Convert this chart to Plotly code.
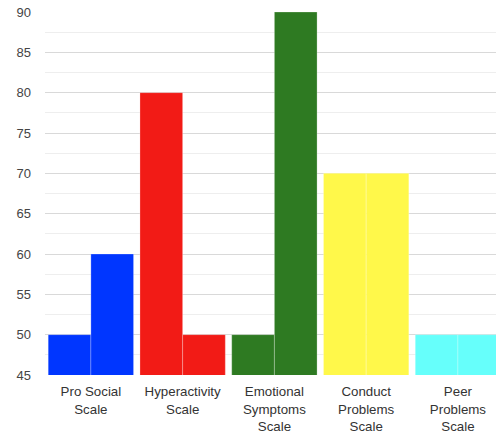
import plotly.graph_objects as go

categories = ["Pro Social<br>Scale", "Hyperactivity<br>Scale", "Emotional<br>Symptoms<br>Scale",
              "Conduct<br>Problems<br>Scale", "Peer<br>Problems<br>Scale"]
series_a = [50, 80, 50, 70, 50]
series_b = [60, 50, 90, 70, 50]
colors = ["#0036ff", "#f21b16", "#2e7a22", "#fff84a", "#66fffb"]
y_ticks = [45, 50, 55, 60, 65, 70, 75, 80, 85, 90]

fig = go.Figure()
for vals, name in [(series_a, "A"), (series_b, "B")]:
    fig.add_trace(go.Bar(
        x=categories, y=vals, name=name,
        marker=dict(color=colors, line=dict(color="rgba(255,255,255,0.25)", width=1)),
        showlegend=False,
    ))

fig.update_layout(
    width=496, height=437,
    margin=dict(l=45, r=0, t=12, b=62),
    barmode="group", bargap=0.07, bargroupgap=0,
    plot_bgcolor="white", paper_bgcolor="white",
    font=dict(family="Liberation Sans, Arial, sans-serif", size=13, color="#222"),
    xaxis=dict(range=[-0.5, 4.415], showgrid=False, showline=False, ticks="",
               ticklabelstandoff=7,
               tickfont=dict(size=13.3, color="#333")),
    yaxis=dict(range=[45, 90], tickvals=y_ticks, showgrid=True, gridcolor="#d9d9d9",
               gridwidth=1, zeroline=False, ticks="", ticklabelstandoff=13,
               tickfont=dict(size=13, color="#444"),
               minor=dict(dtick=2.5, showgrid=True, gridcolor="#eeeeee", gridwidth=1)),
)

fig.write_html("out.html")
